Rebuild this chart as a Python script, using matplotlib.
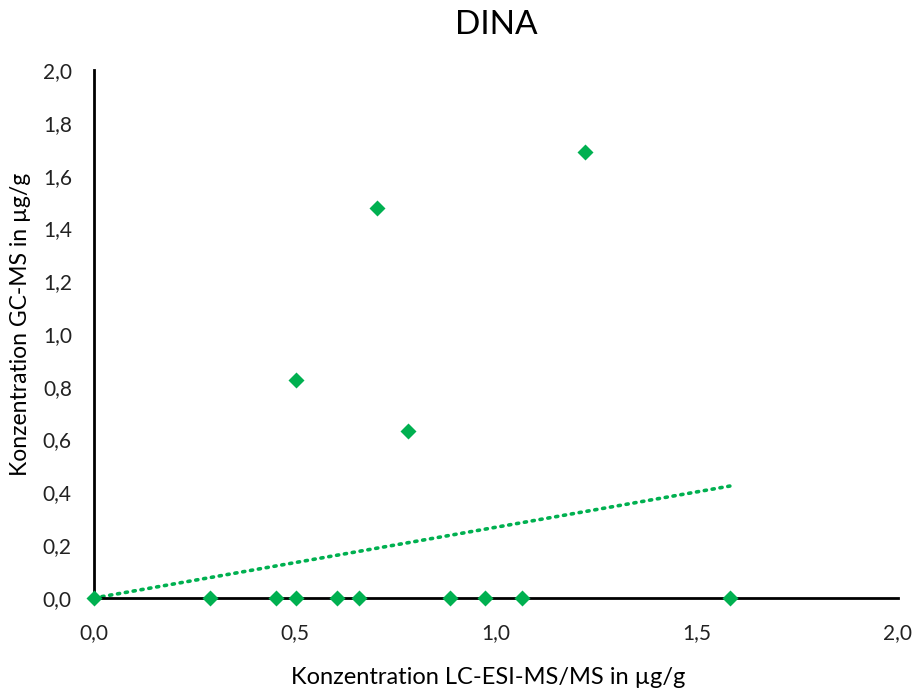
import numpy as np
import matplotlib.pyplot as plt
from matplotlib.ticker import FuncFormatter, MultipleLocator

plt.rcParams['font.family'] = ['Lato', 'DejaVu Sans']

# LC-ESI-MS/MS (x) vs GC-MS (y), µg/g
x_lc = [0.0, 0.288, 0.453, 0.502, 0.604, 0.659, 0.886, 0.972, 1.066, 1.582,
        0.503, 0.704, 0.780, 1.222]
y_gc = [0.0, 0.0, 0.0, 0.0, 0.0, 0.0, 0.0, 0.0, 0.0, 0.0,
        0.826, 1.477, 0.633, 1.688]

# linear trendline as shown in the chart
trend_slope = 0.268
trend_intercept = 0.0

green = '#00B050'
comma = FuncFormatter(lambda v, p: f"{v:.1f}".replace('.', ','))

fig = plt.figure(figsize=(9.19, 6.91), dpi=100)
ax = fig.add_axes([0.1023, 0.1346, 0.8747, 0.7641])

tx = np.array([0, max(x_lc)])
ax.plot(tx, trend_slope * tx + trend_intercept, color=green, lw=2.6,
        linestyle=(0, (0.6, 1.6)), dash_capstyle='round', zorder=2)
ax.plot(x_lc, y_gc, 'D', color=green, ms=8.6, mec='none', zorder=3, clip_on=False)

ax.set_xlim(0, 2.0)
ax.set_ylim(0, 2.0)
ax.xaxis.set_major_locator(MultipleLocator(0.5))
ax.yaxis.set_major_locator(MultipleLocator(0.2))
ax.xaxis.set_major_formatter(comma)
ax.yaxis.set_major_formatter(comma)
ax.tick_params(length=0, labelsize=15, colors='#222222')
ax.tick_params(axis='x', pad=18)
ax.tick_params(axis='y', pad=16)
for s in ['top', 'right']:
    ax.spines[s].set_visible(False)
for s in ['left', 'bottom']:
    ax.spines[s].set_linewidth(2)
    ax.spines[s].set_color('black')

ax.set_title('DINA', fontsize=24, pad=26)
fig.text(0.531, 0.019, 'Konzentration LC-ESI-MS/MS in µg/g', fontsize=17,
         ha='center', va='center')
fig.text(0.022, 0.53, 'Konzentration GC-MS in µg/g', fontsize=16.5,
         ha='center', va='center', rotation=90)

fig.savefig('out.png', dpi=100)
